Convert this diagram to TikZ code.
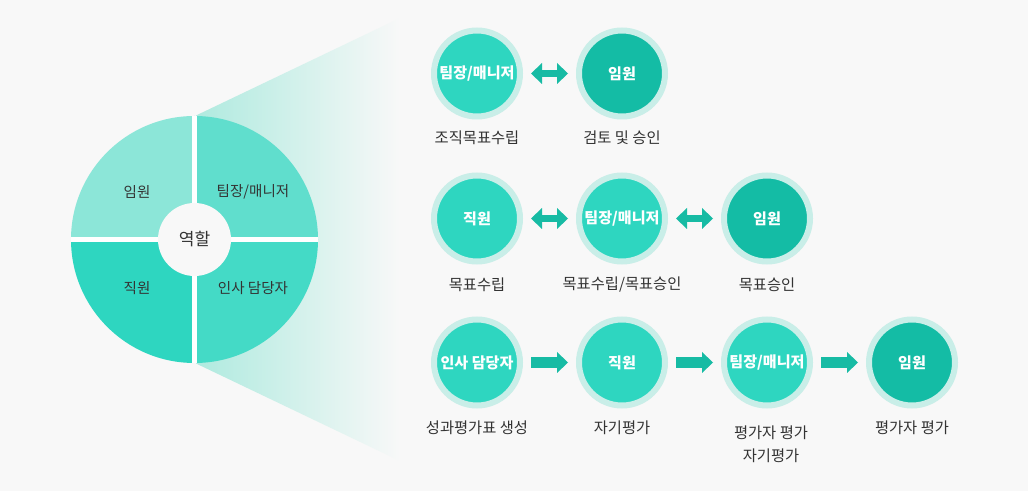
\documentclass[tikz,border=0pt]{standalone}
\usepackage{fontspec}
\setmainfont{Noto Sans CJK KR}
\usetikzlibrary{arrows.meta}
\definecolor{bg}{HTML}{F8F8F8}
\definecolor{tealA}{HTML}{2ED6C0}
\definecolor{tealB}{HTML}{14BCA5}
\definecolor{ringc}{HTML}{C9EEE8}
\definecolor{arrc}{HTML}{17BBA4}
\definecolor{pTL}{HTML}{8CE6D8}
\definecolor{pTR}{HTML}{60DECD}
\definecolor{pBL}{HTML}{2ED6C0}
\definecolor{pBR}{HTML}{44DAC6}
\definecolor{conec}{HTML}{AFEADF}
\definecolor{txt}{HTML}{333333}
\tikzset{
  stage/.style={circle, draw=ringc, line width=4.5pt, fill=tealA, minimum size=64.5pt,
    inner sep=0pt, text=white, font=\bfseries\fontsize{11.3pt}{13pt}\selectfont},
  boss/.style={stage, fill=tealB},
  lbl/.style={text=txt, inner sep=0pt, align=center, font=\fontsize{11.5pt}{17pt}\selectfont},
  pielbl/.style={text=txt, inner sep=0pt, font=\fontsize{10.9pt}{13pt}\selectfont},
  dblarrow/.style={draw=arrc, line width=5.25pt,
    {Triangle[length=8.25pt,width=15.75pt,line width=0pt]}-{Triangle[length=8.25pt,width=15.75pt,line width=0pt]},
    shorten <=6pt, shorten >=6pt},
  onearrow/.style={draw=arrc, line width=7.9pt,
    -{Triangle[length=8.25pt,width=15.75pt,line width=0pt]},
    shorten <=6pt, shorten >=6pt},
}
\begin{document}
\begin{tikzpicture}[x=0.75pt,y=-0.75pt]
\useasboundingbox (0,0) rectangle (1028,491);
\fill[bg] (0,0) rectangle (1028,491);
% cone
\shade[left color=conec, right color=bg] (196,115.5) -- (400,18) -- (400,461) -- (196,363.5) -- cycle;
% pie
\begin{scope}
\clip (194.5,239.5) circle (123.5);
\fill[pTL] (60,100) rectangle (194.5,239.5);
\fill[pTR] (194.5,100) rectangle (330,239.5);
\fill[pBL] (60,239.5) rectangle (194.5,380);
\fill[pBR] (194.5,239.5) rectangle (330,380);
\draw[white, line width=3.4pt] (194.5,100) -- (194.5,380);
\draw[white, line width=3.6pt] (60,239.2) -- (330,239.2);
\end{scope}
\fill[bg] (194.5,239.5) circle (36.5);
\node[pielbl] (pim) at (137,192) {임원};
\node[pielbl] (ptm) at (253,192) {팀장/매니저};
\node[pielbl] (pjw) at (137,288) {직원};
\node[pielbl] (phr) at (253,288) {인사 담당자};
\node[pielbl, font=\fontsize{12.8pt}{14pt}\selectfont] (prole) at (194.5,239.5) {역할};
% row 1
\node[stage] (a1) at (477,73.5) {팀장/매니저};
\node[boss] (a2) at (622,73.5) {임원};
\node[lbl] (la1) at (477,138) {조직목표수립};
\node[lbl] (la2) at (622,138) {검토 및 승인};
\draw[dblarrow] (a1) -- (a2);
% row 2
\node[stage] (b1) at (477,218.5) {직원};
\node[stage] (b2) at (622,218.5) {팀장/매니저};
\node[boss] (b3) at (767,218.5) {임원};
\node[lbl] (lb1) at (477,284.5) {목표수립};
\node[lbl] (lb2) at (622,284.5) {목표수립/목표승인};
\node[lbl] (lb3) at (767,284.5) {목표승인};
\draw[dblarrow] (b1) -- (b2);
\draw[dblarrow] (b2) -- (b3);
% row 3
\node[stage] (c1) at (477,362.5) {인사 담당자};
\node[stage] (c2) at (622,362.5) {직원};
\node[stage] (c3) at (767,362.5) {팀장/매니저};
\node[boss] (c4) at (912,362.5) {임원};
\node[lbl] (lc1) at (477,428) {성과평가표 생성};
\node[lbl] (lc2) at (622,428) {자기평가};
\node[lbl] (lc3) at (771,444) {평가자 평가\\자기평가};
\node[lbl] (lc4) at (912,428) {평가자 평가};
\draw[onearrow] (c1) -- (c2);
\draw[onearrow] (c2) -- (c3);
\draw[onearrow] (c3) -- (c4);
\end{tikzpicture}
\end{document}
